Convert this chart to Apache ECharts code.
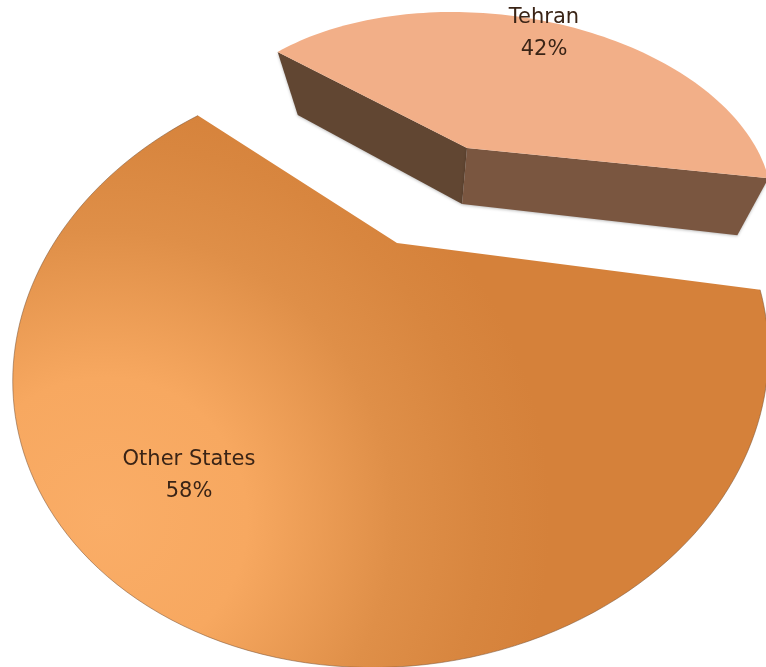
<!DOCTYPE html>
<html><head><meta charset="utf-8">
<style>html,body{margin:0;padding:0;background:#fff}#c{width:766px;height:667px}</style>
<script src="https://cdn.jsdelivr.net/npm/echarts@6/dist/echarts.min.js"></script>
</head><body><div id="c"></div>
<script>
const categories = ['Tehran', 'Other States'];
const shares = [42, 58];

// layout of the perspective pie: tilted ellipse outline, apex, foreshortening, extrusion
const layouts = [
  { start:213.06, warp:0.9696, cx:485.1, cy:185.4, rx:288, ry:171.6, tilt:6.2, apex:[467,148], label:[544,34],
    depth:[0.9242,-0.111,46.9, 0.01328,0.901,64.46] },
  { start:377.44, warp:1.0072, cx:390.6, cy:366.7, rx:378.6, ry:299.9, tilt:-5.9, apex:[397,243], label:[189,476] }
];
const total = shares.reduce((a,b)=>a+b,0);

function projector(L){
  const c=Math.cos(L.tilt*Math.PI/180), s=Math.sin(L.tilt*Math.PI/180);
  const dx0=L.apex[0]-L.cx, dy0=L.apex[1]-L.cy;
  const ax=(dx0*c+dy0*s)/L.rx, ay=(-dx0*s+dy0*c)/L.ry;
  const g=1/Math.sqrt(1-ax*ax-ay*ay);
  return function(deg){
    const t=deg*Math.PI/180, ux=Math.cos(t), uy=Math.sin(t);
    const d=ax*ux+ay*uy, f=g/(1+g)*d;
    const x=(ax+ux/g+f*ax)/(1+d)*L.rx, y=(ay+uy/g+f*ay)/(1+d)*L.ry;
    return [L.cx+x*c-y*s, L.cy+x*s+y*c];
  };
}
function arcPts(P,a0,a1){
  const n=Math.max(24,Math.ceil(Math.abs(a1-a0)/1.5)), out=[];
  for(let i=0;i<=n;i++) out.push(P(a0+(a1-a0)*i/n));
  return out;
}
const bigFill={type:'radial',x:105,y:520,r:445,global:true,colorStops:[
  {offset:0,color:'#FAAD67'},{offset:0.32,color:'#F7A860'},{offset:0.65,color:'#DF8F48'},{offset:0.85,color:'#D8863F'},{offset:1,color:'#D5813A'}]};

function renderItem(params,api){
  const i=params.dataIndex, L=layouts[i];
  const a0=L.start, a1=a0+L.warp*api.value(0)/total*360;
  const P=projector(L), arc=arcPts(P,a0,a1), children=[];
  const A=L.apex, first=arc[0], last=arc[arc.length-1];
  if(L.depth){
    const m=L.depth, D=p=>[m[0]*p[0]+m[1]*p[1]+m[2], m[3]*p[0]+m[4]*p[1]+m[5]];
    children.push({type:'polygon',shape:{points:[first,A,D(A),D(first)]},
      style:{fill:'#614632',shadowBlur:3,shadowColor:'rgba(0,0,0,0.25)',shadowOffsetY:1}});
    children.push({type:'polygon',shape:{points:[A,last,D(last),D(A)]},
      style:{fill:'#7A5640',shadowBlur:3,shadowColor:'rgba(0,0,0,0.25)',shadowOffsetY:1}});
  }
  children.push({type:'polygon',shape:{points:[A].concat(arc)},
    style:{fill:L.depth?'#F2AF88':bigFill}});
  if(!L.depth) children.push({type:'polyline',shape:{points:arc},
    style:{fill:null,stroke:'rgba(125,85,55,0.55)',lineWidth:1}});
  children.push({type:'text',x:L.label[0],y:L.label[1],style:{
    text:categories[i]+'\n'+api.value(0)+'%',
    font:'21px "DejaVu Sans"',fill:'#3A2416',align:'center',verticalAlign:'middle',lineHeight:32}});
  return {type:'group',children};
}
const chart=echarts.init(document.getElementById('c'),null,{renderer:'canvas'});
chart.setOption({
  backgroundColor:'#fff',animation:false,
  series:[{type:'custom',coordinateSystem:'none',renderItem,
    data:shares.map((v,i)=>({name:categories[i],value:[v]})),silent:true}]
});
</script></body></html>
